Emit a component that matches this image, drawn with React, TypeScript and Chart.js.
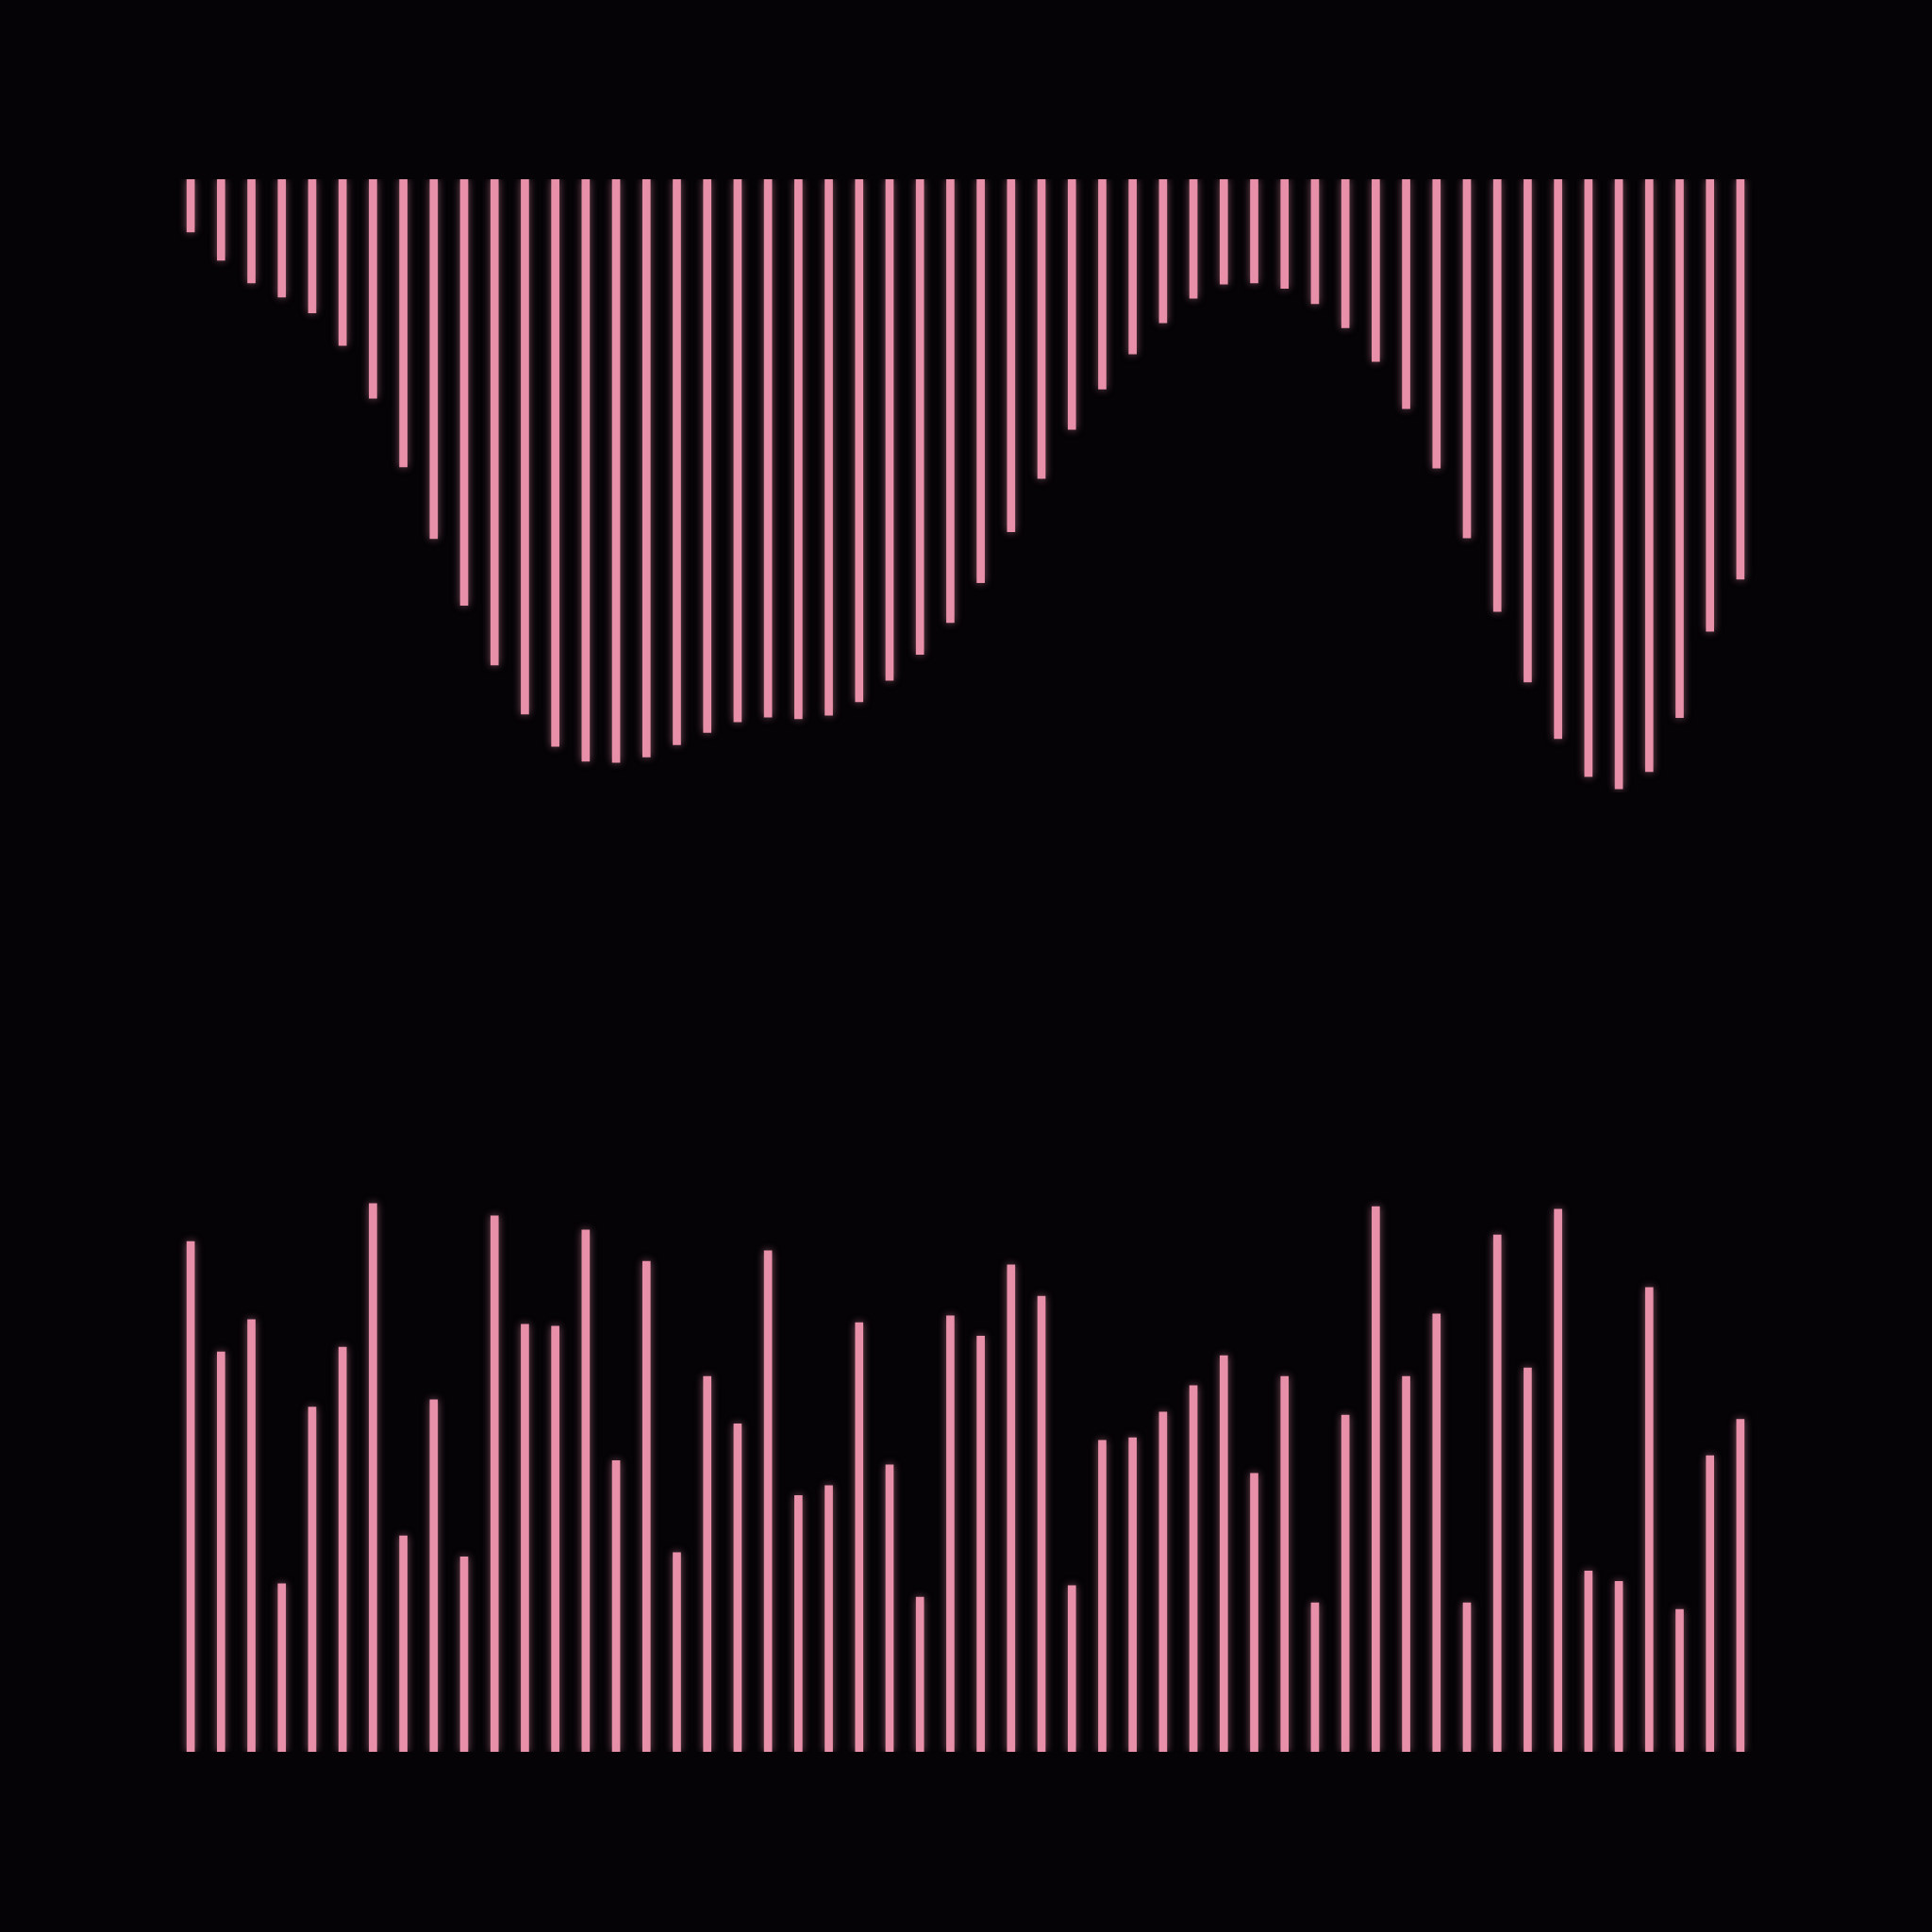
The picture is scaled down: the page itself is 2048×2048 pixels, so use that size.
import React, { useEffect, useRef } from "react";
import { Chart, registerables } from "chart.js";

Chart.register(...registerables);

const categories: string[] = Array.from({ length: 52 }, (_, i) => String(i + 1));

const topValues: number[] = [
  0.86, 1.32, 1.69, 1.92, 2.18, 2.71, 3.57, 4.69, 5.86, 6.95,
  7.92, 8.72, 9.25, 9.49, 9.51, 9.42, 9.22, 9.02, 8.85, 8.77,
  8.8, 8.74, 8.52, 8.17, 7.75, 7.23, 6.58, 5.75, 4.88, 4.08,
  3.42, 2.85, 2.34, 1.94, 1.71, 1.69, 1.78, 2.03, 2.42, 2.97,
  3.74, 4.71, 5.85, 7.05, 8.2, 9.12, 9.74, 9.94, 9.66, 8.78,
  7.37, 6.52,
];

const bottomValues: number[] = [
  8.32, 6.52, 7.05, 2.74, 5.62, 6.6, 8.94, 3.52, 5.74, 3.18,
  8.74, 6.97, 6.94, 8.51, 4.75, 8.0, 3.25, 6.12, 5.35, 8.17,
  4.18, 4.34, 7.0, 4.68, 2.52, 7.11, 6.78, 7.94, 7.43, 2.71,
  5.08, 5.12, 5.54, 5.97, 6.46, 4.54, 6.12, 2.43, 5.49, 8.89,
  6.12, 7.14, 2.43, 8.43, 6.26, 8.85, 2.95, 2.78, 7.57, 2.32,
  4.83, 5.42,
];

const BAR_COLOR = "#e890aa";
const GLOW_COLOR = "rgba(232,144,170,0.55)";
const BG = "#050306";

const glowPlugin = {
  id: "glow",
  beforeDatasetsDraw(chart: any) {
    const ctx = chart.ctx;
    ctx.save();
    ctx.shadowColor = GLOW_COLOR;
    ctx.shadowBlur = 8;
    ctx.shadowOffsetX = 0;
    ctx.shadowOffsetY = 0;
  },
  afterDatasetsDraw(chart: any) {
    chart.ctx.restore();
  },
};

function BarPanel({ values, reverse, padding }: { values: number[]; reverse: boolean; padding: any }) {
  const ref = useRef<HTMLCanvasElement | null>(null);
  useEffect(() => {
    if (!ref.current) return;
    const chart = new Chart(ref.current, {
      type: "bar",
      data: {
        labels: categories,
        datasets: [
          {
            data: values,
            backgroundColor: BAR_COLOR,
            borderWidth: 0,
            barThickness: 8,
          },
        ],
      },
      options: {
        responsive: false,
        animation: false,
        layout: { padding },
        plugins: { legend: { display: false }, tooltip: { enabled: false } },
        scales: {
          x: { display: false, offset: true, grid: { display: false } },
          y: { display: false, min: 0, max: 10, reverse, grid: { display: false } },
        },
      },
      plugins: [glowPlugin],
    });
    return () => chart.destroy();
  }, []);
  return <canvas ref={ref} width={2048} height={1024} style={{ display: "block", width: 2048, height: 1024 }} />;
}

export default function App() {
  return (
    <div style={{ position: "fixed", left: 0, top: 0, width: 2048, height: 2048, background: BG }}>
      <BarPanel values={topValues} reverse={true} padding={{ top: 190, bottom: 184, left: 186, right: 187 }} />
      <BarPanel values={bottomValues} reverse={false} padding={{ top: 183, bottom: 191, left: 186, right: 187 }} />
    </div>
  );
}
